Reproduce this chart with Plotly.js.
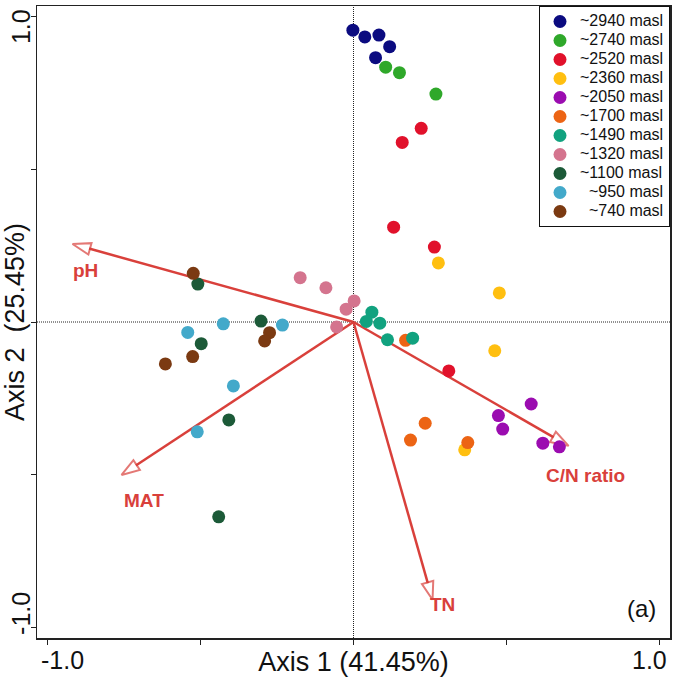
<!DOCTYPE html>
<html>
<head>
<meta charset="utf-8">
<script src="https://cdn.plot.ly/plotly-3.0.1.min.js"></script>
<style>
  body { margin: 0; background: #fff; }
  #plot { width: 675px; height: 679px; }
</style>
</head>
<body>
<div id="plot"></div>
<script>
// sample groups (elevation) and their site scores on axes 1 and 2
const groups = ["~2940 masl", "~2740 masl", "~2520 masl", "~2360 masl", "~2050 masl", "~1700 masl",
                "~1490 masl", "~1320 masl", "~1100 masl", "\u00a0\u00a0~950 masl", "\u00a0\u00a0~740 masl"];
const groupColors = ["#0b0b80", "#2fa82a", "#e1112b", "#ffbf10", "#9b0cb0", "#ec6414",
                     "#11a27f", "#d4748e", "#1c5a38", "#43a9ca", "#7b3a12"];

const scoreX = [
  [-0.002, 0.037, 0.083, 0.118, 0.072],
  [0.105, 0.150, 0.269],
  [0.221, 0.159, 0.131, 0.264, 0.311],
  [0.277, 0.476, 0.461, 0.363],
  [0.580, 0.473, 0.487, 0.618, 0.672],
  [0.170, 0.234, 0.186, 0.373],
  [0.060, 0.042, 0.086, 0.111, 0.193],
  [-0.174, -0.090, 0.002, -0.024, -0.055],
  [-0.508, -0.302, -0.497, -0.407, -0.440],
  [-0.425, -0.541, -0.232, -0.392, -0.510],
  [-0.523, -0.274, -0.290, -0.525, -0.614]
];
const scoreY = [
  [0.954, 0.932, 0.938, 0.900, 0.864],
  [0.833, 0.815, 0.745],
  [0.633, 0.587, 0.310, 0.245, -0.160],
  [0.193, 0.095, -0.094, -0.418],
  [-0.268, -0.306, -0.350, -0.396, -0.408],
  [-0.060, -0.331, -0.386, -0.394],
  [0.032, 0.002, -0.004, -0.058, -0.053],
  [0.145, 0.112, 0.069, 0.042, -0.016],
  [0.124, 0.003, -0.071, -0.320, -0.637],
  [-0.006, -0.034, -0.010, -0.209, -0.359],
  [0.159, -0.035, -0.062, -0.113, -0.137]
];

// environmental vectors
const envNames = ["pH", "MAT", "TN", "C/N ratio"];
const envX = [-0.917, -0.757, 0.258, 0.702];
const envY = [0.255, -0.500, -0.908, -0.405];
const envLabelX = [-0.874, -0.685, 0.290, 0.757];
const envLabelY = [0.170, -0.582, -0.922, -0.503];

const tickVals = [-1, -0.5, 0, 0.5, 1];
const edgeTicks = [-1, 1];
const edgeTickText = ["-1.0", "1.0"];

const red = "#d9403b";
const traces = [];

// arrows first so the points sit on top
envNames.forEach((name, i) => {
  traces.push({
    x: [0, envX[i]],
    y: [0, envY[i]],
    mode: "lines+markers",
    type: "scatter",
    line: { color: red, width: 2.5 },
    marker: { symbol: "arrow", size: [0, 19], angleref: "previous", color: "white",
              line: { color: red, width: 2 } },
    showlegend: false,
    hoverinfo: "skip"
  });
});

// legend font is kept small so the rows pack tight, the span sets the visible size
groups.forEach((g, i) => {
  traces.push({
    x: scoreX[i],
    y: scoreY[i],
    mode: "markers",
    type: "scatter",
    name: '<span style="font-size:16px">' + g + "</span>",
    marker: { color: groupColors[i], size: 13 }
  });
});

const annotations = [];
envNames.forEach((name, i) => {
  annotations.push({
    x: envLabelX[i], y: envLabelY[i], xref: "x", yref: "y",
    text: "<b>" + name + "</b>", showarrow: false,
    font: { size: 19, color: red }
  });
});
// only the end ticks are labelled, nudged inward like the original
const xShift = [15, -10];
const yShift = [14, -11];
edgeTicks.forEach((v, i) => {
  annotations.push({
    x: v, y: 0, xref: "x", yref: "paper", yanchor: "middle",
    yshift: -22, xshift: xShift[i], text: edgeTickText[i], showarrow: false,
    font: { size: 25, color: "#111" }
  });
  annotations.push({
    x: 0, y: v, xref: "paper", yref: "y", xanchor: "center", xshift: -16,
    yshift: yShift[i], text: edgeTickText[i], textangle: -90, showarrow: false,
    font: { size: 25, color: "#111" }
  });
});
annotations.push({
  x: 1, y: 0, xref: "paper", yref: "paper", xanchor: "right", yanchor: "bottom",
  xshift: -12, yshift: 14, text: "(a)", showarrow: false,
  font: { size: 24, color: "#111" }
});

const layout = {
  width: 675,
  height: 679,
  margin: { l: 37, r: 5, t: 6, b: 41 },
  paper_bgcolor: "white",
  plot_bgcolor: "white",
  font: { family: "Liberation Sans, Arial, sans-serif", color: "#111" },
  showlegend: true,
  legend: {
    x: 1, y: 1, xanchor: "right", yanchor: "top",
    bordercolor: "#111", borderwidth: 1, bgcolor: "white",
    font: { size: 11, color: "#111" }, tracegroupgap: 0, itemwidth: 30
  },
  xaxis: {
    range: [-1.033, 1.033], tickvals: tickVals, showticklabels: false,
    ticks: "outside", ticklen: 5, tickcolor: "#222",
    showline: true, linecolor: "#222", linewidth: 1.5, mirror: true,
    showgrid: false, zeroline: false, automargin: false,
    title: { text: "Axis 1 (41.45%)", font: { size: 27 }, standoff: 8 }
  },
  yaxis: {
    range: [-1.033, 1.033], tickvals: tickVals, showticklabels: false,
    ticks: "outside", ticklen: 5, tickcolor: "#222",
    showline: true, linecolor: "#222", linewidth: 1.5, mirror: true,
    showgrid: false, zeroline: false, automargin: false,
    title: { text: "Axis 2\u00a0 (25.45%)", font: { size: 27 }, standoff: 4 }
  },
  shapes: [
    { type: "line", xref: "x", yref: "paper", x0: 0, x1: 0, y0: 0, y1: 1,
      line: { color: "#222", width: 1, dash: "1px,1px" }, layer: "below" },
    { type: "line", xref: "paper", yref: "y", x0: 0, x1: 1, y0: 0, y1: 0,
      line: { color: "#222", width: 1, dash: "1px,1px" }, layer: "below" }
  ],
  annotations: annotations
};

Plotly.newPlot("plot", traces, layout, { displayModeBar: false, staticPlot: true });
</script>
</body>
</html>
